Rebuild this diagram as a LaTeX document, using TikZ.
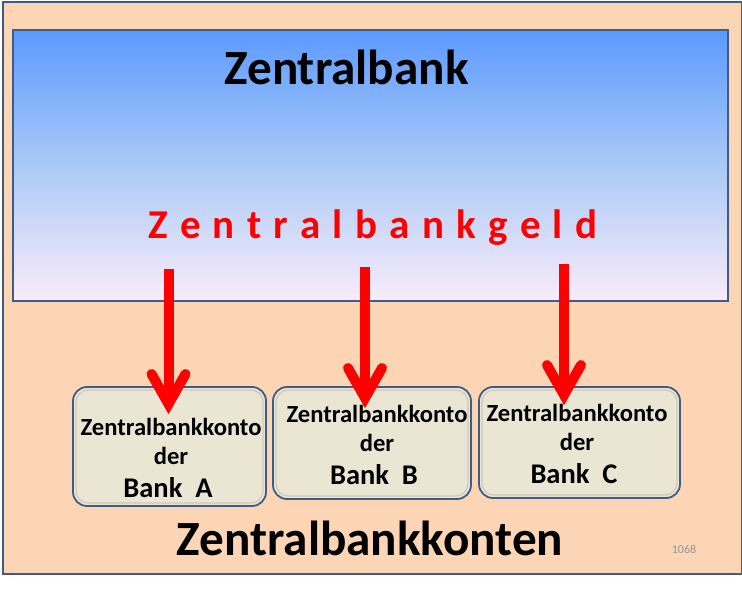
\documentclass[tikz,border=0pt]{standalone}
\usepackage{fontspec}
\setmainfont{Carlito}
\usetikzlibrary{calc}
\definecolor{peach}{RGB}{252,213,181}
\definecolor{frame}{RGB}{62,92,136}
\definecolor{gtop}{RGB}{92,154,255}
\definecolor{gmid}{RGB}{170,202,246}
\definecolor{gbot}{RGB}{250,236,250}
\definecolor{kfill}{RGB}{235,230,211}
\definecolor{kinner}{RGB}{205,200,186}
\definecolor{arrred}{RGB}{255,0,0}
\definecolor{numgray}{RGB}{150,150,150}
\begin{document}
\begin{tikzpicture}[x=1pt,y=-1pt,
  kbox/.style={draw=frame, line width=1.8pt, fill=kfill, rounded corners=14pt, inner sep=0pt},
  kin/.style={draw=kinner, line width=1.2pt, rounded corners=12pt, inner sep=0pt},
  ktext/.style={font=\fontsize{24.6}{28}\selectfont\bfseries, inner sep=0pt, anchor=base},
  kbank/.style={font=\fontsize{28.5}{30}\selectfont\bfseries, inner sep=0pt, anchor=base},
  bigtext/.style={font=\fontsize{49.2}{54}\selectfont\bfseries, inner sep=0pt, anchor=base},
  shaft/.style={draw=arrred, line width=10pt, line cap=butt},
  arrhead/.style={draw=arrred, line width=10pt, line cap=round, line join=miter}]
\useasboundingbox (0,0) rectangle (742,599);
\fill[white] (0,0) rectangle (742,599);
% outer frame
\node[draw=frame, line width=2pt, fill=peach, minimum width=739pt, minimum height=571pt, inner sep=0pt, anchor=north west] (outer) at (1.5,1.5) {};
% central bank box
\node[draw=frame, line width=1.6pt, top color=gtop, bottom color=gbot, middle color=gmid, minimum width=715pt, minimum height=271pt, inner sep=0pt] (zb) at (370.5,165.5) {};
\node[bigtext] (title) at (346.5,85) {Zentralbank};
\node[anchor=base west, inner sep=0pt, text=arrred, font=\fontsize{41}{46}\selectfont\bfseries] (geld) at (148,238)
  {\makebox[449pt][s]{Z\hfill e\hfill n\hfill t\hfill r\hfill a\hfill l\hfill b\hfill a\hfill n\hfill k\hfill g\hfill e\hfill l\hfill d}};
% account boxes
\node[kbox, minimum width=193pt, minimum height=119pt] (bA) at (169.5,446.5) {};
\node[kbox, minimum width=198pt, minimum height=112pt] (bB) at (372,443) {};
\node[kbox, minimum width=201pt, minimum height=111pt] (bC) at (579.5,442.5) {};
\node[kin, minimum width=187pt, minimum height=113pt] (iA) at (bA) {};
\node[kin, minimum width=192pt, minimum height=106pt] (iB) at (bB) {};
\node[kin, minimum width=195pt, minimum height=105pt] (iC) at (bC) {};
\node[ktext] (a1) at (171,435) {Zentralbankkonto};
\node[ktext] (a2) at (171,464) {der};
\node[kbank] (a3) at (168,497) {Bank\ \ A};
\node[ktext] (b1) at (377,422) {Zentralbankkonto};
\node[ktext] (b2) at (377,451) {der};
\node[kbank] (b3) at (374,484) {Bank\ \ B};
\node[ktext] (c1) at (577,421) {Zentralbankkonto};
\node[ktext] (c2) at (577,450) {der};
\node[kbank] (c3) at (574,483) {Bank\ \ C};
% arrows
\coordinate (sA) at (168.5,269); \coordinate (hA) at (168.5,404);
\coordinate (sB) at (365,267);   \coordinate (hB) at (365,398);
\coordinate (sC) at (564,264);   \coordinate (hC) at (564,395);
\foreach \s/\h in {sA/hA,sB/hB,sC/hC}{
  \draw[shaft] (\s) -- (\h);
  \draw[arrhead] ($(\h)+(-17,-30)$) -- (\h) -- ($(\h)+(17,-30)$);
}
\node[bigtext] (konten) at (370,555) {Zentralbankkonten};
\node[inner sep=0pt, anchor=base, text=numgray, font=\fontsize{12}{14}\selectfont] (num) at (684,553) {1068};
\end{tikzpicture}
\end{document}
